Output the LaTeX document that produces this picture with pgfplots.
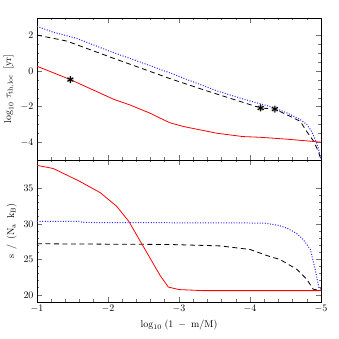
\documentclass[border=0pt]{standalone}
\usepackage{pgfplots}
\pgfplotsset{compat=1.18}
\begin{document}
\begin{tikzpicture}
\pgfplotsset{
  panel/.style={
    width=284bp, height=142bp, scale only axis,
    xmin=-5, xmax=-1, x dir=reverse,
    xtick={-5,-4,-3,-2,-1}, minor x tick num=4,
    tick align=inside, major tick length=5bp, minor tick length=2.5bp,
    tick style={black!55, line width=0.6pt},
    axis line style={line width=0.9pt},
    tick label style={font=\normalsize},
    label style={font=\normalsize},
  },
  redline/.style={red, line width=0.8pt, no marks},
  blueline/.style={blue!85!white, line width=1pt, dash pattern=on 1pt off 1.6pt, no marks},
  blackline/.style={black, line width=0.8pt, dash pattern=on 5bp off 3.5bp, no marks},
}
\begin{axis}[panel, name=top,
  ymin=-5, ymax=3, ytick={-4,-2,0,2}, minor y tick num=3,
  xticklabels={},
  ylabel={$\log_{10}\,\tau_{\mathrm{th,loc}}$ \,[yr]}]
\addplot[blueline] coordinates {(-1,2.53) (-1.23,2.2) (-1.56,1.85) (-2.03,1.12) (-2.5,0.45) (-2.87,-0.09) (-3.2,-0.6) (-3.53,-1.1) (-3.9,-1.56) (-4.14,-1.83) (-4.34,-2.05) (-4.55,-2.4) (-4.71,-2.73) (-4.8,-3.0) (-4.87,-3.4) (-4.92,-3.87) (-4.96,-4.3) (-4.99,-4.8) (-5,-5)};
\addplot[blackline] coordinates {(-1,2.04) (-1.42,1.7) (-2.03,0.8) (-2.87,-0.41) (-3.34,-1.04) (-3.86,-1.7) (-4.15,-2.07) (-4.35,-2.13) (-4.57,-2.55) (-4.71,-2.83) (-4.8,-3.4) (-4.9,-3.96) (-4.97,-4.6) (-5,-5)};
\addplot[redline] coordinates {(-1,0.28) (-1.47,-0.47) (-2.08,-1.58) (-2.31,-1.9) (-2.59,-2.36) (-2.78,-2.73) (-2.87,-2.9) (-3.06,-3.11) (-3.53,-3.49) (-3.9,-3.68) (-4.14,-3.72) (-4.5,-3.82) (-4.85,-3.94) (-5,-4.0)};
\addplot[only marks, mark=*, gray!45, mark size=3bp] coordinates {(-1.47,-0.47) (-4.15,-2.07) (-4.35,-2.13)};
\addplot[only marks, mark=asterisk, black, mark size=3.5bp, line width=1.1pt] coordinates {(-1.47,-0.47) (-4.15,-2.07) (-4.35,-2.13)};
\end{axis}
\begin{axis}[panel, at={(top.south west)}, anchor=north west,
  ymin=19, ymax=39, ytick={20,25,30,35}, minor y tick num=4,
  xlabel={$\log_{10}\;(1\;-\;\mathrm{m/M})$},
  ylabel={s \,/\, (N$_{\mathrm{a}}$ \,k$_{\mathrm{B}}$)}]
\addplot[blueline] coordinates {(-1,30.35) (-1.6,30.35) (-1.65,30.2) (-4.2,30.12) (-4.4,29.8) (-4.52,29.4) (-4.65,28.7) (-4.75,27.8) (-4.85,26.4) (-4.92,23.5) (-4.97,21.0) (-5,20.8)};
\addplot[blackline] coordinates {(-1,27.2) (-2.87,27.1) (-3.58,26.9) (-4,26.4) (-4.28,25.4) (-4.42,25.0) (-4.66,23.6) (-4.8,22.2) (-4.89,20.8) (-5,20.6)};
\addplot[redline] coordinates {(-1,38.25) (-1.23,37.8) (-1.6,36.0) (-1.89,34.4) (-2.12,32.5) (-2.29,30.4) (-2.73,22.8) (-2.85,21.1) (-3.0,20.75) (-3.34,20.6) (-5,20.6)};
\end{axis}
\path (top.north west) ++(-37bp,18bp) rectangle ++(339bp,-339bp);
\end{tikzpicture}
\end{document}
